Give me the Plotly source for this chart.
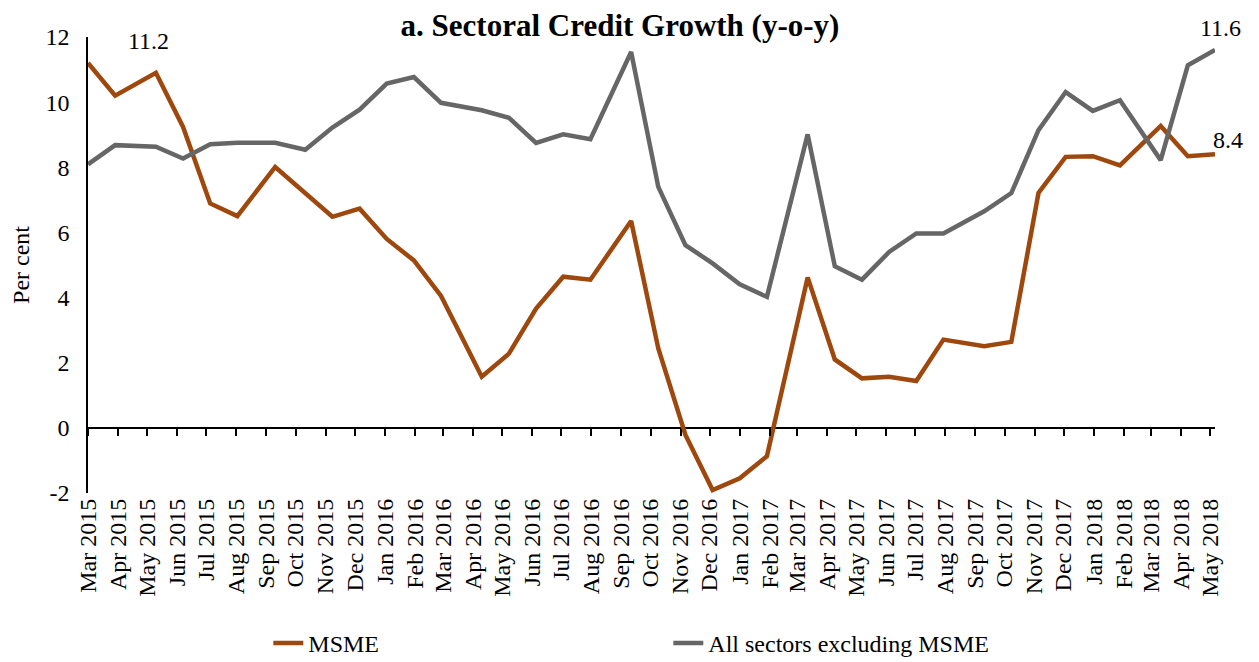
import pandas as pd
import plotly.graph_objects as go

# ---- data ----
tick_labels = [
    "Mar 2015", "Apr 2015", "May 2015", "Jun 2015", "Jul 2015", "Aug 2015", "Sep 2015",
    "Oct 2015", "Nov 2015", "Dec 2015", "Jan 2016", "Feb 2016", "Mar 2016", "Apr 2016",
    "May 2016", "Jun 2016", "Jul 2016", "Aug 2016", "Sep 2016", "Oct 2016", "Nov 2016",
    "Dec 2016", "Jan 2017", "Feb 2017", "Mar 2017", "Apr 2017", "May 2017", "Jun 2017",
    "Jul 2017", "Aug 2017", "Sep 2017", "Oct 2017", "Nov 2017", "Dec 2017", "Jan 2018",
    "Feb 2018", "Mar 2018", "Apr 2018", "May 2018",
]

# reporting dates of the observations
dates = [
    "2015-03-20", "2015-04-17", "2015-05-29", "2015-06-26", "2015-07-24", "2015-08-21",
    "2015-09-29", "2015-10-30", "2015-11-27", "2015-12-25", "2016-01-22", "2016-02-19",
    "2016-03-18", "2016-04-29", "2016-05-27", "2016-06-24", "2016-07-22", "2016-08-19",
    "2016-09-30", "2016-10-28", "2016-11-25", "2016-12-23", "2017-01-20", "2017-02-17",
    "2017-03-31", "2017-04-28", "2017-05-26", "2017-06-23", "2017-07-21", "2017-08-18",
    "2017-09-29", "2017-10-27", "2017-11-24", "2017-12-22", "2018-01-19", "2018-02-16",
    "2018-03-30", "2018-04-27", "2018-05-25",
]

msme = [
    11.2, 10.2, 10.9, 9.24, 6.89, 6.50, 8.01, 7.20, 6.48, 6.73, 5.80, 5.14,
    4.05, 1.57, 2.28, 3.66, 4.64, 4.55, 6.35, 2.44, -0.22, -1.91, -1.55, -0.87,
    4.62, 2.10, 1.52, 1.57, 1.44, 2.71, 2.51, 2.64, 7.21, 8.32, 8.34, 8.06,
    9.27, 8.34, 8.4,
]

non_msme = [
    8.09, 8.68, 8.63, 8.27, 8.71, 8.75, 8.75, 8.54, 9.22, 9.77, 10.57, 10.77,
    9.98, 9.75, 9.52, 8.75, 9.01, 8.86, 11.54, 7.40, 5.61, 5.05, 4.41, 4.02,
    9.01, 4.96, 4.55, 5.40, 5.97, 5.97, 6.65, 7.21, 9.14, 10.31, 9.73, 10.06,
    8.22, 11.13, 11.6,
]

y_ticks = [-2, 0, 2, 4, 6, 8, 10, 12]

series_names = ["MSME", "All sectors excluding MSME"]
title_text = "a. Sectoral Credit Growth (y-o-y)"
y_title = "Per cent"

# ---- styling ----
FONT = "Liberation Serif, Times New Roman, serif"
C_MSME = "#9E480E"
C_OTHER = "#666666"
W, H = 1259, 662

tick_vals = [pd.to_datetime("20 " + t, format="%d %b %Y") for t in tick_labels]
x_dates = pd.to_datetime(dates)
x_range = [x_dates[0], x_dates[-1]]
y_min, y_max = y_ticks[0], y_ticks[-1]

fig = go.Figure()
fig.add_trace(go.Scatter(
    x=x_dates, y=msme, mode="lines", name=series_names[0],
    line=dict(color=C_MSME, width=4.5),
))
fig.add_trace(go.Scatter(
    x=x_dates, y=non_msme, mode="lines", name=series_names[1],
    line=dict(color=C_OTHER, width=4.5),
))
# empty trace to host the tick-mark axis drawn along y = 0
fig.add_trace(go.Scatter(x=[], y=[], xaxis="x2", showlegend=False, hoverinfo="skip"))

# data labels
fig.add_annotation(x=x_dates[0], y=msme[0], text=f"{msme[0]:.1f}", showarrow=False,
                   xshift=60, yshift=22, font=dict(family=FONT, size=24, color="black"))
fig.add_annotation(x=x_dates[-1], y=non_msme[-1], text=f"{non_msme[-1]:.1f}", showarrow=False,
                   xshift=5, yshift=22, font=dict(family=FONT, size=24, color="black"))
fig.add_annotation(x=x_dates[-1], y=msme[-1], text=f"{msme[-1]:.1f}", showarrow=False,
                   xshift=13, yshift=14, font=dict(family=FONT, size=24, color="black"))

fig.update_layout(
    width=W, height=H,
    margin=dict(l=80, r=52, t=29, b=177, autoexpand=False),
    paper_bgcolor="white", plot_bgcolor="white",
    font=dict(family=FONT, size=24, color="black"),
    title=dict(text=f"<b>{title_text}</b>", x=612 / W, xanchor="center",
               y=1 - 17 / H, yanchor="middle", font=dict(family=FONT, size=31, color="black")),
    showlegend=True,
    legend=dict(orientation="h", x=0.16, xanchor="left", y=-0.33, yanchor="middle",
                font=dict(family=FONT, size=24), entrywidth=355, bgcolor="rgba(0,0,0,0)"),
    xaxis=dict(
        type="date", range=x_range, tickmode="array", tickvals=tick_vals, ticktext=tick_labels,
        tickangle=-90, showgrid=False, zeroline=False, showline=False, ticks="",
        tickfont=dict(family=FONT, size=24), automargin=False,
    ),
    xaxis2=dict(
        type="date", range=x_range, overlaying="x", anchor="free",
        position=(0 - y_min) / (y_max - y_min), side="bottom",
        tickmode="array", tickvals=tick_vals, showticklabels=False,
        ticks="outside", ticklen=7, tickwidth=1.5, tickcolor="black",
        showgrid=False, zeroline=False, showline=False,
    ),
    yaxis=dict(
        range=[y_min, y_max], tickmode="array", tickvals=y_ticks,
        ticktext=[str(v) for v in y_ticks], showgrid=False,
        zeroline=True, zerolinecolor="black", zerolinewidth=1.5,
        showline=True, linecolor="black", linewidth=1.5, ticks="",
        ticklabelstandoff=12, tickfont=dict(family=FONT, size=24),
        title=dict(text=y_title, standoff=9, font=dict(family=FONT, size=24)),
        automargin=False,
    ),
)

fig.write_html("out.html")
